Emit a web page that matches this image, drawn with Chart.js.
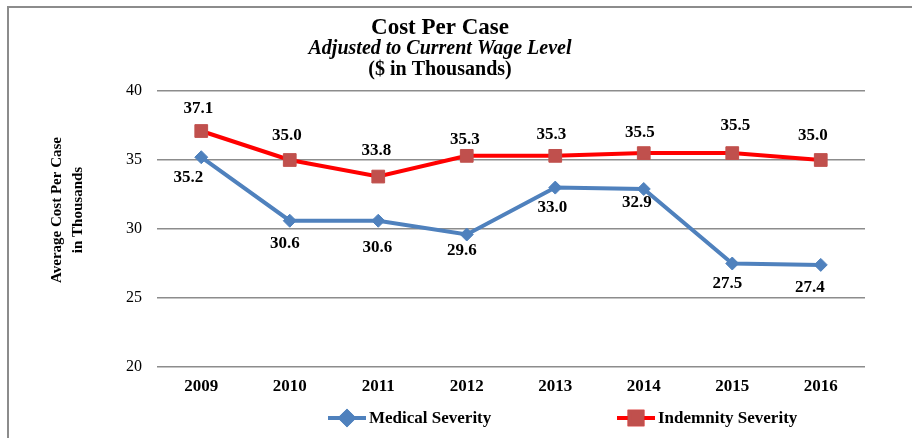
<!DOCTYPE html>
<html>
<head>
<meta charset="utf-8">
<script src="https://cdn.jsdelivr.net/npm/chart.js@4/dist/chart.umd.min.js"></script>
<style>
  html, body { margin: 0; padding: 0; background: #fff; }
  #wrap { position: relative; width: 912px; height: 438px; }
</style>
</head>
<body>
<div id="wrap"><canvas id="chart"></canvas></div>
<script>
const years = ["2009", "2010", "2011", "2012", "2013", "2014", "2015", "2016"];
const medicalSeverity = [35.2, 30.6, 30.6, 29.6, 33.0, 32.9, 27.5, 27.4];
const indemnitySeverity = [37.1, 35.0, 33.8, 35.3, 35.3, 35.5, 35.5, 35.0];
const yTicks = [20, 25, 30, 35, 40];

const titleLines = ["Cost Per Case", "Adjusted to Current Wage Level", "($ in Thousands)"];
const yTitle = ["Average Cost Per Case", "in Thousands"];

// where each value label sits, relative to its point (dx, dy)
const medicalLabelPos = [[-13, 20], [-5, 23], [-1, 27], [-5, 16], [-3, 20], [-7, 14], [-5, 20], [-11, 23]];
const indemnityLabelPos = [[-3, -22], [-3, -24], [-2, -26], [-2, -16], [-4, -21], [-4, -20], [3, -27], [-8, -24]];

const serif = "'Liberation Serif', 'Times New Roman', serif";
const blue = "#4F81BD";
const red = "#FF0000";
const redMarker = "#C0504D";

const decor = {
  id: "decor",
  beforeDraw(chart) {
    const ctx = chart.ctx;
    ctx.save();
    ctx.strokeStyle = "#8c8c8c";
    ctx.lineWidth = 2;
    ctx.beginPath();
    ctx.moveTo(912, 7);
    ctx.lineTo(8, 7);
    ctx.lineTo(8, 438);
    ctx.stroke();
    ctx.restore();
  },
  afterDraw(chart) {
    const ctx = chart.ctx;
    ctx.save();
    ctx.fillStyle = "#000";
    ctx.textAlign = "center";
    ctx.textBaseline = "middle";

    // title block
    ctx.font = "bold 23px " + serif;
    ctx.fillText(titleLines[0], 440, 28);
    ctx.font = "italic bold 20px " + serif;
    ctx.fillText(titleLines[1], 440, 49);
    ctx.font = "bold 20px " + serif;
    ctx.fillText(titleLines[2], 440, 70);

    // y axis title
    ctx.save();
    ctx.translate(67, 210);
    ctx.rotate(-Math.PI / 2);
    ctx.font = "bold 15px " + serif;
    ctx.fillText(yTitle[0], 0, -10);
    ctx.fillText(yTitle[1], 0, 11);
    ctx.restore();

    // value labels
    ctx.font = "bold 17px " + serif;
    const sets = [medicalLabelPos, indemnityLabelPos];
    chart.data.datasets.forEach((ds, di) => {
      chart.getDatasetMeta(di).data.forEach((pt, i) => {
        const off = sets[di][i];
        ctx.fillText(ds.data[i].toFixed(1), pt.x + off[0], pt.y + off[1]);
      });
    });

    // legend
    const items = [
      { x: 328, ds: chart.data.datasets[0] },
      { x: 617, ds: chart.data.datasets[1] }
    ];
    const ly = 418;
    items.forEach((it) => {
      ctx.strokeStyle = it.ds.borderColor;
      ctx.lineWidth = 4;
      ctx.beginPath();
      ctx.moveTo(it.x, ly);
      ctx.lineTo(it.x + 38, ly);
      ctx.stroke();
      Chart.helpers.drawPoint(ctx, {
        pointStyle: it.ds.pointStyle,
        radius: it.ds.pointRadius,
        borderWidth: 1
      }, it.x + 19, ly);
      ctx.fillStyle = it.ds.pointBackgroundColor;
      ctx.strokeStyle = it.ds.pointBorderColor;
      ctx.fill();
      ctx.stroke();
      ctx.fillStyle = "#000";
      ctx.textAlign = "left";
      ctx.font = "bold 17px " + serif;
      ctx.fillText(it.ds.label, it.x + 41, ly + 1);
    });
    ctx.restore();
  }
};

new Chart(document.getElementById("chart"), {
  type: "line",
  data: {
    labels: years,
    datasets: [
      {
        label: "Medical Severity",
        data: medicalSeverity,
        borderColor: blue,
        backgroundColor: blue,
        borderWidth: 4,
        pointStyle: "rectRot",
        pointRadius: 6.5,
        pointBackgroundColor: blue,
        pointBorderColor: blue,
        pointBorderWidth: 1,
        tension: 0
      },
      {
        label: "Indemnity Severity",
        data: indemnitySeverity,
        borderColor: red,
        backgroundColor: red,
        borderWidth: 4,
        pointStyle: "rect",
        pointRadius: 9,
        pointBackgroundColor: redMarker,
        pointBorderColor: redMarker,
        pointBorderWidth: 1,
        tension: 0
      }
    ]
  },
  options: {
    responsive: true,
    maintainAspectRatio: false,
    animation: false,
    layout: { padding: { left: 8, right: 47, top: 91, bottom: 0 } },
    plugins: {
      legend: { display: false },
      title: { display: false },
      tooltip: { enabled: false }
    },
    scales: {
      x: {
        offset: true,
        grid: { display: false, drawTicks: false },
        border: { display: false },
        ticks: {
          color: "#000",
          padding: 9,
          font: { family: serif, size: 17, weight: "bold" }
        },
        afterFit(scale) { scale.height = 71; }
      },
      y: {
        min: 20,
        max: 40,
        afterBuildTicks(scale) { scale.ticks = yTicks.map((v) => ({ value: v })); },
        grid: { color: "#8c8c8c", lineWidth: 1.5, drawTicks: false },
        border: { display: false },
        ticks: {
          color: "#000",
          padding: 15,
          font: { family: serif, size: 16 }
        },
        afterFit(scale) { scale.width = 149; }
      }
    }
  },
  plugins: [decor]
});
</script>
</body>
</html>
